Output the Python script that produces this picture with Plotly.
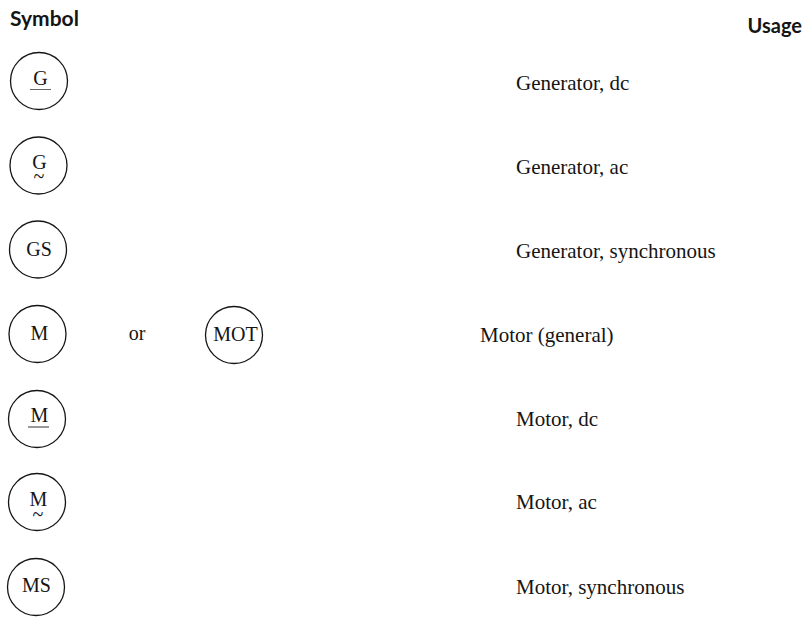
import plotly.graph_objects as go

# Symbol table contents
circle_x = [39, 38.5, 38, 37.5, 234, 37, 37, 36]
circle_y = [81, 165.5, 249.5, 334, 335, 419, 502, 587]
symbol_labels = ["G", "G", "GS", "M", "MOT", "M", "M", "MS"]
symbol_label_x = [40.5, 39.5, 39, 39.5, 235.5, 39.5, 38.5, 36.5]
symbol_label_y = [80, 164, 251, 335, 336, 417, 501, 587]
tilde_x = [39, 38]
tilde_y = [178, 516]
underline_x = [[30, 51], [28, 49]]
underline_y = [[89.5, 89.5], [427, 427]]
usage_labels = ["Generator, dc", "Generator, ac", "Generator, synchronous", "Motor (general)",
                "Motor, dc", "Motor, ac", "Motor, synchronous"]
usage_x = [516, 516, 516, 480, 516, 516, 516]
usage_y = [85, 169, 253, 337, 421, 504, 589]
header_labels = ["Symbol", "Usage"]
header_x = [10, 802]
header_y = [21, 28]

INK = "#151515"
SERIF = "Liberation Serif"
fig = go.Figure()
fig.add_trace(go.Scatter(x=circle_x, y=circle_y, mode="markers",
    marker=dict(symbol="circle-open", size=57, color=INK, line=dict(width=1.3, color=INK))))
fig.add_trace(go.Scatter(x=symbol_label_x, y=symbol_label_y, mode="text", text=symbol_labels,
    textposition="middle center", textfont=dict(family=SERIF, size=20, color=INK)))
fig.add_trace(go.Scatter(x=tilde_x, y=tilde_y, mode="text", text=["~", "~"],
    textposition="middle center", textfont=dict(family=SERIF, size=20, color=INK)))
for ux, uy, col in zip(underline_x, underline_y, ["#666666", "#333333"]):
    fig.add_trace(go.Scatter(x=ux, y=uy, mode="lines", line=dict(color=col, width=1)))
fig.add_trace(go.Scatter(x=[137], y=[335], mode="text", text=["or"],
    textposition="middle center", textfont=dict(family=SERIF, size=20, color=INK)))
fig.add_trace(go.Scatter(x=usage_x, y=usage_y, mode="text", text=usage_labels,
    textposition="middle right", textfont=dict(family=SERIF, size=21, color=INK)))
fig.add_trace(go.Scatter(x=[header_x[0]], y=[header_y[0]], mode="text", text=[header_labels[0]],
    textposition="middle right", textfont=dict(family="Lato", size=21, color=INK, weight="bold")))
fig.add_trace(go.Scatter(x=[header_x[1]], y=[header_y[1]], mode="text", text=[header_labels[1]],
    textposition="middle left", textfont=dict(family="Lato", size=20, color=INK, weight="bold")))

fig.update_layout(width=808, height=640, margin=dict(l=0, r=0, t=0, b=0), showlegend=False,
    paper_bgcolor="white", plot_bgcolor="white",
    xaxis=dict(range=[0, 808], visible=False, fixedrange=True),
    yaxis=dict(range=[640, 0], visible=False, fixedrange=True))
fig.write_html("out.html", config={"displayModeBar": False},
    post_script="document.body.style.margin='0';document.body.style.overflow='hidden';")
